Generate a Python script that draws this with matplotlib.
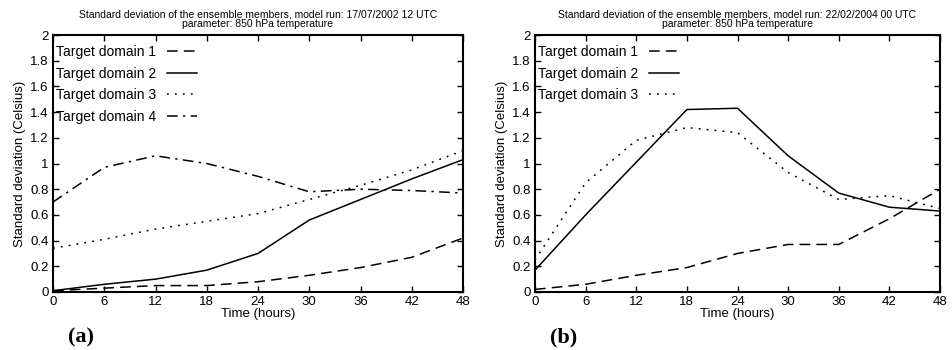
import matplotlib
matplotlib.use("Agg")
import matplotlib.pyplot as plt
from matplotlib.ticker import FuncFormatter

plt.rcParams['font.family'] = ['Liberation Sans', 'DejaVu Sans']

hours = [0, 6, 12, 18, 24, 30, 36, 42, 48]

# Panel (a): model run 17/07/2002 12 UTC
a_td1 = [0.01, 0.03, 0.05, 0.05, 0.08, 0.13, 0.19, 0.27, 0.42]
a_td2 = [0.01, 0.06, 0.10, 0.17, 0.30, 0.56, 0.72, 0.88, 1.03]
a_td3 = [0.34, 0.41, 0.49, 0.55, 0.61, 0.72, 0.83, 0.95, 1.10]
a_td4 = [0.70, 0.97, 1.06, 1.00, 0.90, 0.78, 0.80, 0.79, 0.77]

# Panel (b): model run 22/02/2004 00 UTC
b_td1 = [0.02, 0.06, 0.13, 0.19, 0.30, 0.37, 0.37, 0.57, 0.80]
b_td2 = [0.17, 0.60, 1.01, 1.42, 1.43, 1.06, 0.77, 0.66, 0.63]
b_td3 = [0.25, 0.85, 1.18, 1.28, 1.24, 0.93, 0.72, 0.75, 0.65]

labels = ["Target domain 1", "Target domain 2", "Target domain 3", "Target domain 4"]
titles = ["Standard deviation of the ensemble members, model run: 17/07/2002 12 UTC\nparameter: 850 hPa temperature",
          "Standard deviation of the ensemble members, model run: 22/02/2004 00 UTC\nparameter: 850 hPa temperature"]
panel_tags = ["(a)", "(b)"]
yticks = [0, 0.2, 0.4, 0.6, 0.8, 1.0, 1.2, 1.4, 1.6, 1.8, 2.0]

styles = [(0, (7, 4)), "-", (0, (1.2, 4)), (0, (7, 3.5, 1.5, 3.5))]

fig = plt.figure(figsize=(9.52, 3.5), dpi=100)
axes_pos = [[53/952, 58/350, 410/952, 257/350],
            [535/952, 58/350, 405/952, 257/350]]
data = [[a_td1, a_td2, a_td3, a_td4], [b_td1, b_td2, b_td3]]

def fmt(v, pos):
    return "%g" % round(v, 2)

for i in range(2):
    ax = fig.add_axes(axes_pos[i])
    for j, series in enumerate(data[i]):
        ax.plot(hours, series, color="black", lw=1.1, linestyle=styles[j], label=labels[j])
    ax.set_xlim(0, 48)
    ax.set_ylim(0, 2)
    ax.set_xticks(hours)
    ax.set_yticks(yticks)
    ax.yaxis.set_major_formatter(FuncFormatter(fmt))
    ax.tick_params(direction="in", top=True, right=True, length=4, width=1,
                   labelsize=9.5, pad=3, colors="black")
    for s in ax.spines.values():
        s.set_linewidth(1.5)
    ax.set_xlabel("Time (hours)", fontsize=9.5, labelpad=0)
    ax.set_ylabel("Standard deviation (Celsius)", fontsize=9.5, labelpad=3)
    ax.set_title(titles[i], fontsize=7.5, pad=5.5, linespacing=0.95)
    w = axes_pos[i][2] * 952
    ax.legend(loc="upper left", bbox_to_anchor=(3 / w, 1 - 10 / 257),
              frameon=False, markerfirst=False,
              fontsize=10, handlelength=2.1, handletextpad=0.8,
              borderaxespad=0.0, borderpad=0.0, labelspacing=0.55)
    fig.text(axes_pos[i][0] + 15/952, 1 - 337/350, panel_tags[i], fontsize=16,
             fontweight="bold", family="Liberation Serif", ha="left", va="center")

fig.savefig("out.png", dpi=100, facecolor="white")
